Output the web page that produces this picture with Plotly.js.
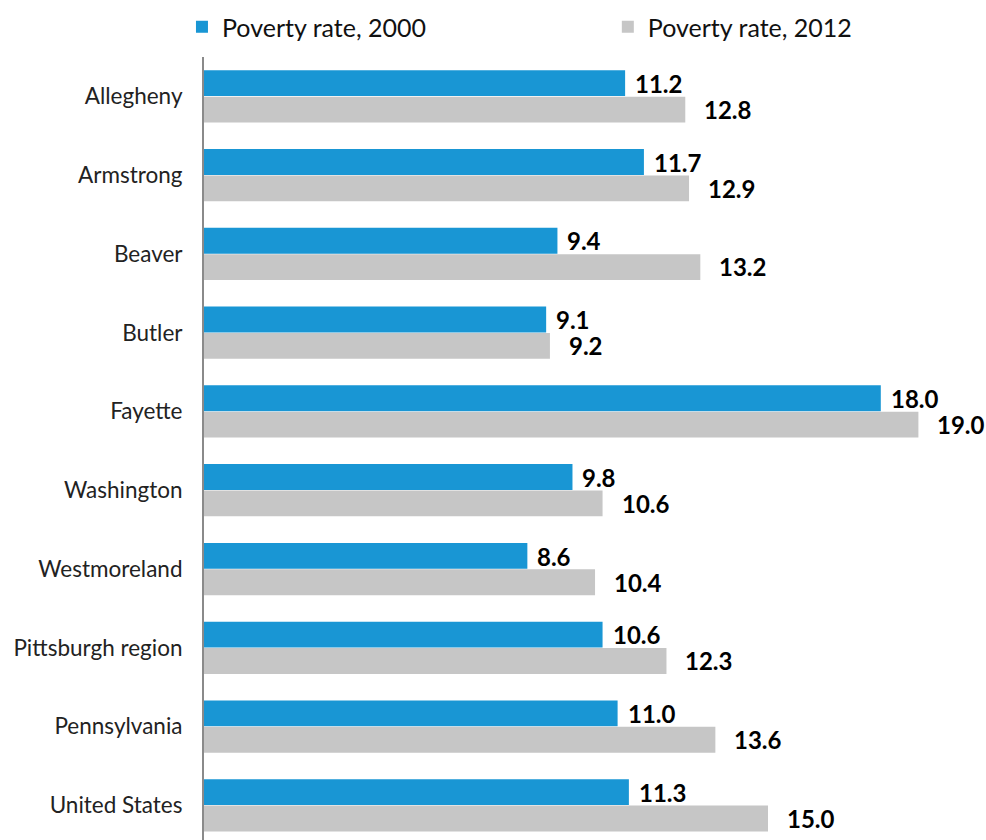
<!DOCTYPE html>
<html><head><meta charset="utf-8">
<script src="https://cdn.plot.ly/plotly-3.0.1.min.js"></script>
<style>html,body{margin:0;padding:0;background:#fff}#chart{width:986px;height:840px}</style>
</head><body><div id="chart"></div>
<script>
const categories = ["Allegheny","Armstrong","Beaver","Butler","Fayette","Washington","Westmoreland","Pittsburgh region","Pennsylvania","United States"];
const rate2000 = [11.2, 11.7, 9.4, 9.1, 18.0, 9.8, 8.6, 10.6, 11.0, 11.3];
const rate2012 = [12.8, 12.9, 13.2, 9.2, 19.0, 10.6, 10.4, 12.3, 13.6, 15.0];
const seriesNames = ["Poverty rate, 2000", "Poverty rate, 2012"];
const colors = ['#1996d4', '#c6c6c6'];

const common = {type: 'bar', orientation: 'h', y: categories, hoverinfo: 'skip'};
const data = [
  Object.assign({}, common, {x: rate2000, name: seriesNames[0], marker: {color: colors[0]}, legend: 'legend'}),
  Object.assign({}, common, {x: rate2012, name: seriesNames[1], marker: {color: colors[1]}, legend: 'legend2'})
];

const labelFont = {family: 'Lato', size: 24, color: '#000', weight: 'bold'};
const annotations = [];
[rate2000, rate2012].forEach(function (vals, s) {
  vals.forEach(function (v, i) {
    annotations.push({
      x: v, y: categories[i], xref: 'x', yref: 'y',
      text: v.toFixed(1), showarrow: false,
      xanchor: 'left', yanchor: 'middle',
      xshift: s === 0 ? 8 : 17, yshift: s === 0 ? 13 : -13,
      font: labelFont
    });
  });
});

const legendFont = {family: 'Lato', size: 25, color: '#111'};
const layout = {
  width: 986, height: 840,
  margin: {l: 204, r: 30, t: 57, b: 0},
  paper_bgcolor: '#fff', plot_bgcolor: '#fff',
  font: {family: 'Lato', color: '#222'},
  barmode: 'group', bargap: 0.33, bargroupgap: 0.02,
  showlegend: true,
  legend: {orientation: 'h', x: -0.0293, xanchor: 'left', y: 1.0383, yanchor: 'middle',
           font: legendFont, itemwidth: 30},
  legend2: {orientation: 'h', x: 0.537, xanchor: 'left', y: 1.0383, yanchor: 'middle',
           font: legendFont, itemwidth: 30},
  annotations: annotations,
  xaxis: {range: [0, 20], showgrid: false, zeroline: false, showticklabels: false,
          showline: false, ticks: ''},
  yaxis: {type: 'category', categoryorder: 'array', categoryarray: categories,
          range: [9.44, -0.5], showgrid: false, zeroline: false,
          showline: true, linecolor: '#8a8a8a', linewidth: 2,
          ticks: '', ticklabelstandoff: 15,
          tickfont: {family: 'Lato', size: 22.5, color: '#222'}}
};
Plotly.newPlot('chart', data, layout, {displayModeBar: false, staticPlot: true});
</script></body></html>
